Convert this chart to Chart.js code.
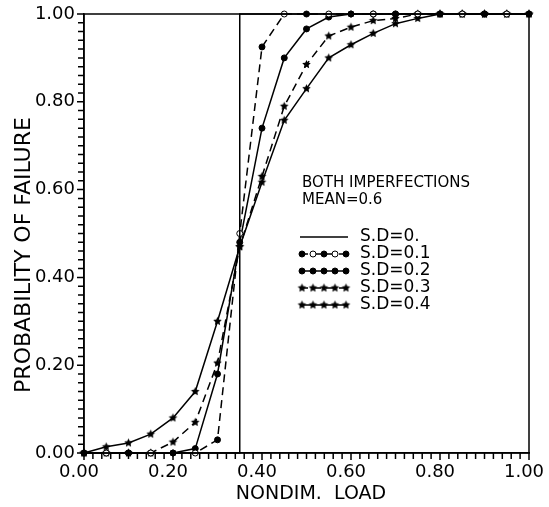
<!DOCTYPE html>
<html>
<head>
<meta charset="utf-8">
<script src="https://cdn.jsdelivr.net/npm/chart.js@4/dist/chart.umd.min.js"></script>
<style>
  html,body{margin:0;padding:0;background:#fff;}
  canvas{display:block;}
</style>
</head>
<body>
<canvas id="c" width="549" height="507"></canvas>
<script>
// Probability of failure vs nondimensional load (both imperfections, mean 0.6)
const loads = [0,0.05,0.10,0.15,0.20,0.25,0.30,0.35,0.40,0.45,0.50,0.55,0.60,0.65,0.70,0.75,0.80,0.85,0.90,0.95,1.00];
const sd00X = [0,0.35,0.35,1.00];
const sd00Y = [0,0,1,1];
const sd01 = [0,0,0,0,0,0,0.03,0.50,0.925,1,1,1,1,1,1,1,1,1,1,1,1];
const sd02 = [0,0,0,0,0,0.01,0.18,0.48,0.74,0.90,0.966,0.993,1,1,1,1,1,1,1,1,1];
const sd03 = [0,0,0,0,0.025,0.07,0.205,0.47,0.63,0.79,0.885,0.95,0.97,0.985,0.99,1,1,1,1,1,1];
const sd04 = [0,0.014,0.023,0.043,0.08,0.14,0.30,0.47,0.617,0.758,0.83,0.90,0.93,0.956,0.978,0.99,1,1,1,1,1];
const tickLabels = ['0.00','0.20','0.40','0.60','0.80','1.00'];
const minorPerMajor = 10;   // minor tick every 0.02
const seriesLabels = ['S.D=0.','S.D=0.1','S.D=0.2','S.D=0.3','S.D=0.4'];
const header = ['BOTH IMPERFECTIONS','MEAN=0.6'];
const xTitle = 'NONDIM.  LOAD';
const yTitle = 'PROBABILITY OF FAILURE';

const FONT = 'DejaVu Sans';
const pts = (xs, ys) => xs.map((x,i)=>({x, y:ys[i]}));

// small filled star marker
function makeStar(r){
  const c=document.createElement('canvas'); const s=Math.ceil(r*2)+2; c.width=s; c.height=s;
  const g=c.getContext('2d'); g.fillStyle='#000'; g.beginPath();
  for(let i=0;i<10;i++){
    const a=-Math.PI/2+i*Math.PI/5, rr=i%2?r*0.5:r;
    g.lineTo(s/2+rr*Math.cos(a), s/2+rr*Math.sin(a));
  }
  g.closePath(); g.fill(); return c;
}
const star = makeStar(4.5);

const base = {borderColor:'#000', borderWidth:1.5, fill:false, tension:0, clip:false,
  pointBorderColor:'#000', pointBackgroundColor:'#000', pointBorderWidth:1};
const datasets = [
  {...base, label:seriesLabels[0], data:pts(sd00X,sd00Y), pointRadius:0},
  {...base, label:seriesLabels[1], data:pts(loads,sd01), borderDash:[8,5], pointStyle:'circle', pointRadius:3,
    pointBackgroundColor:c=>c.dataIndex%2?'#fff':'#000'},
  {...base, label:seriesLabels[2], data:pts(loads,sd02), pointStyle:'circle', pointRadius:3},
  {...base, label:seriesLabels[3], data:pts(loads,sd03), borderDash:[8,5], pointStyle:star, pointRadius:4},
  {...base, label:seriesLabels[4], data:pts(loads,sd04), pointStyle:star, pointRadius:4}
];

// all tick positions: majors from tickLabels, minors between them
function buildTicks(scale){
  const n=(tickLabels.length-1)*minorPerMajor, out=[];
  for(let k=0;k<=n;k++) out.push({value:k/n});
  scale.ticks=out;
}
function tickCb(v,i){ return i%minorPerMajor===0 ? tickLabels[i/minorPerMajor] : ''; }
function axis(pos, extra, offset){
  return Object.assign({
    type:'linear', position:pos, min:0, max:1,
    afterBuildTicks:buildTicks,
    ticks:{autoSkip:false, maxRotation:0, minRotation:0, color:'#000',
      font:{family:FONT, size:18}, padding:1, labelOffset:offset, callback:tickCb},
    grid:{display:false, tickLength:8},
    border:{display:true, color:'#000', width:1.5}
  }, extra);
}

const decor = {
  id:'decor',
  afterDraw(chart){
    const ctx=chart.ctx, a=chart.chartArea, sx=chart.scales.x, sy=chart.scales.y;
    ctx.save();
    ctx.strokeStyle='#000'; ctx.lineWidth=1.5;
    ctx.strokeRect(a.left, a.top, a.right-a.left, a.bottom-a.top);
    // outward tick marks at every scale tick
    ctx.lineWidth=1.5; ctx.beginPath();
    sx.ticks.forEach((t,i)=>{ const p=sx.getPixelForValue(t.value), L=i%minorPerMajor?6:7;
      ctx.moveTo(p,a.bottom); ctx.lineTo(p,a.bottom+L); });
    sy.ticks.forEach((t,i)=>{ const p=sy.getPixelForValue(t.value), L=i%minorPerMajor?6:7;
      ctx.moveTo(a.left,p); ctx.lineTo(a.left-L,p); });
    ctx.stroke();
    ctx.fillStyle='#000';
    // axis titles
    ctx.font=`19px "${FONT}"`; ctx.textAlign='center'; ctx.textBaseline='middle';
    ctx.fillText(xTitle, 311, 494);
    ctx.save(); ctx.translate(24, 255); ctx.rotate(-Math.PI/2);
    ctx.font=`22px "${FONT}"`; ctx.fillText(yTitle, 0, 0); ctx.restore();
    // legend header
    ctx.textAlign='left'; ctx.font=`15px "${FONT}"`;
    ctx.fillText(header[0], 302, 183);
    ctx.fillText(header[1], 302, 200);
    // legend entries
    const ys=[237,254,271,288,305];
    chart.data.datasets.forEach((ds,i)=>{
      const y=ys[i];
      ctx.save(); ctx.lineWidth=1.5; ctx.strokeStyle='#000';
      ctx.setLineDash(ds.borderDash||[]);
      ctx.beginPath(); ctx.moveTo(300,y); ctx.lineTo(348,y); ctx.stroke(); ctx.restore();
      if(ds.pointRadius){
        [302,313,324,335,346].forEach((x,j)=>{
          if(ds.pointStyle==='circle'){
            ctx.beginPath(); ctx.arc(x,y,3,0,Math.PI*2);
            ctx.fillStyle=(i===1 && j%2)?'#fff':'#000'; ctx.fill();
            ctx.lineWidth=1; ctx.strokeStyle='#000'; ctx.stroke();
          } else {
            ctx.drawImage(ds.pointStyle, x-ds.pointStyle.width/2, y-ds.pointStyle.height/2);
          }
        });
      }
      ctx.fillStyle='#000'; ctx.font=`17px "${FONT}"`;
      ctx.fillText(ds.label, 360, y);
    });
    ctx.restore();
  }
};

new Chart(document.getElementById('c'), {
  type:'line',
  data:{datasets},
  options:{
    responsive:false, animation:false, devicePixelRatio:1,
    layout:{padding:{top:14, right:20, left:0, bottom:0}},
    plugins:{legend:{display:false}, tooltip:{enabled:false}},
    scales:{
      x:axis('bottom', {afterFit(s){ s.height=54; s.paddingLeft=0; s.paddingRight=0; }}, -5),
      y:axis('left', {afterFit(s){ s.width=84; s.paddingTop=0; s.paddingBottom=0; }}, 0)
    }
  },
  plugins:[decor]
});
</script>
</body>
</html>
